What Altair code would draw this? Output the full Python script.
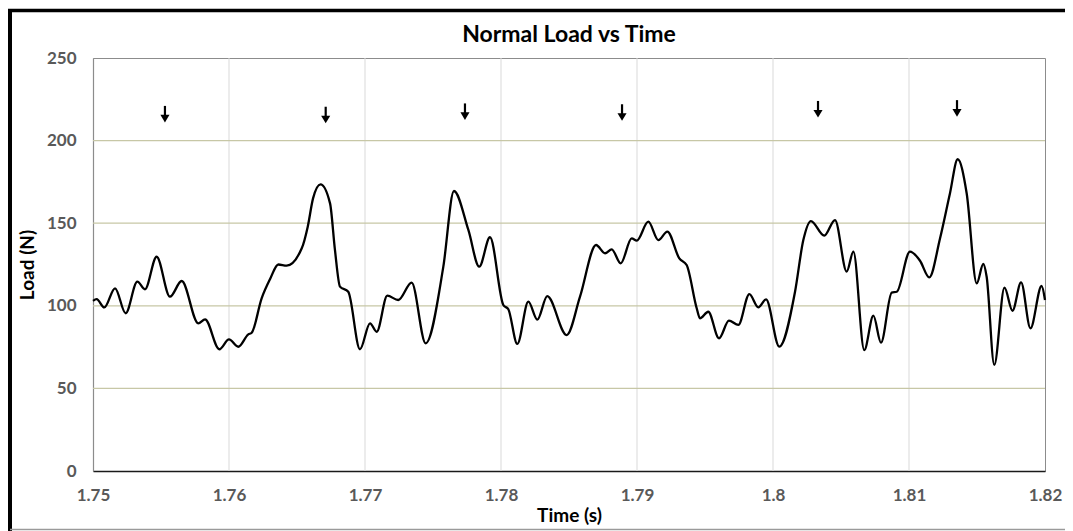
import altair as alt
import pandas as pd

# ---- data ----
time_s = [1.75000, 1.75027, 1.75083, 1.75162, 1.75240, 1.75326, 1.75382, 1.75468,
          1.75566, 1.75652, 1.75774, 1.75824, 1.75929, 1.76000, 1.76068, 1.76142,
          1.76167, 1.76240, 1.76301, 1.76363, 1.76424, 1.76535, 1.76579, 1.76618,
          1.76673, 1.76743, 1.76779, 1.76816, 1.76877, 1.76963, 1.77037, 1.77086,
          1.77164, 1.77245, 1.77343, 1.77446, 1.77576, 1.77654, 1.77760, 1.77840,
          1.77919, 1.78017, 1.78054, 1.78120, 1.78201, 1.78267, 1.78340, 1.78483,
          1.78581, 1.78699, 1.78765, 1.78814, 1.78880, 1.78961, 1.78998, 1.79083,
          1.79157, 1.79223, 1.79311, 1.79365, 1.79439, 1.79463, 1.79524, 1.79603,
          1.79676, 1.79745, 1.79826, 1.79892, 1.79949, 1.80046, 1.80162, 1.80223,
          1.80279, 1.80377, 1.80456, 1.80542, 1.80591, 1.80671, 1.80738, 1.80794,
          1.80873, 1.80910, 1.81007, 1.81081, 1.81149, 1.81228, 1.81301, 1.81358,
          1.81424, 1.81498, 1.81546, 1.81571, 1.81627, 1.81702, 1.81761, 1.81824,
          1.81893, 1.81975, 1.82000]
load_n = [103.0, 104.0, 99.0, 110.6, 95.5, 114.6, 110.0, 129.7,
          105.5, 115.0, 89.4, 91.8, 73.7, 79.7, 75.2, 82.7,
          83.7, 104.5, 116.0, 125.0, 124.3, 134.8, 147.9, 165.0,
          173.5, 162.0, 133.8, 111.6, 108.5, 73.7, 89.4, 84.3,
          106.1, 103.5, 114.0, 77.3, 123.7, 169.5, 145.9, 123.7,
          141.5, 100.5, 97.9, 76.9, 102.5, 91.6, 105.9, 82.3,
          105.5, 136.8, 131.8, 134.2, 125.7, 140.8, 139.4, 150.9,
          139.8, 144.9, 128.7, 124.7, 98.5, 92.4, 96.4, 80.3,
          91.0, 88.4, 107.1, 99.1, 103.9, 75.3, 108.5, 139.8,
          151.3, 142.5, 151.9, 120.7, 132.8, 73.2, 94.0, 77.7,
          108.0, 108.5, 132.8, 127.3, 117.2, 140.8, 168.0, 188.7,
          168.1, 113.6, 125.3, 117.6, 64.2, 111.0, 97.0, 114.2,
          86.4, 112.0, 103.5]

arrow_time = [1.75529, 1.76711, 1.77735, 1.78890, 1.80331, 1.81353]
arrow_tip = [211.0, 210.5, 212.5, 212.0, 214.0, 214.5]
arrow_top = [221.0, 220.5, 222.5, 222.0, 224.0, 224.5]

x_ticks = [1.75, 1.76, 1.77, 1.78, 1.79, 1.80, 1.81, 1.82]
y_ticks = [0, 50, 100, 150, 200, 250]
x_grid = [1.76, 1.77, 1.78, 1.79, 1.80, 1.81]
y_grid = [50, 100, 150, 200]

chart_title = "Normal Load vs Time"

FONT = "Lato"
W, H = 952, 413

df = pd.DataFrame({"time": time_s, "load": load_n})
arrows = pd.DataFrame({"time": arrow_time, "tip": arrow_tip, "top": arrow_top})
arrows["shaft_end"] = arrows["tip"] + 3

xscale = alt.Scale(domain=[1.75, 1.82], nice=False, zero=False)
yscale = alt.Scale(domain=[0, 250], nice=False)

xaxis = alt.Axis(values=x_ticks, format="~g", title="Time (s)", grid=False,
                 ticks=False, tickSize=0, labelPadding=16, labelFlush=False,
                 domainColor="#1a1a1a", domainWidth=1.5,
                 titleX=W / 2, titleY=50, titleBaseline="alphabetic", titleAlign="center")
yaxis = alt.Axis(values=y_ticks, title="Load (N)", grid=False,
                 ticks=False, tickSize=0, labelPadding=17, labelFlush=False,
                 domainColor="#8c8c8c", domainWidth=1.2,
                 titleX=-56, titleY=H / 2, titleAngle=-90, titleBaseline="bottom",
                 titleAlign="center")

vgrid = alt.Chart(pd.DataFrame({"time": x_grid})).mark_rule(
    color="#d9d9d9", strokeWidth=1).encode(x=alt.X("time:Q", scale=xscale, axis=xaxis))
hgrid = alt.Chart(pd.DataFrame({"load": y_grid})).mark_rule(
    color="#c7c7a6", strokeWidth=1.2).encode(y=alt.Y("load:Q", scale=yscale, axis=yaxis))

line = alt.Chart(df).mark_line(color="black", strokeWidth=2.3, interpolate="monotone").encode(
    x=alt.X("time:Q", scale=xscale, axis=xaxis),
    y=alt.Y("load:Q", scale=yscale, axis=yaxis),
)

shafts = alt.Chart(arrows).mark_rule(color="black", strokeWidth=2.2).encode(
    x="time:Q", y="top:Q", y2="shaft_end:Q")
heads = alt.Chart(arrows).mark_point(
    shape="M-0.6,-1L0.6,-1L0,0Z", filled=True, color="black", opacity=1, size=230
).encode(x="time:Q", y="tip:Q")

one = pd.DataFrame({"a": [0]})
title_mark = alt.Chart(pd.DataFrame({"t": [chart_title]})).mark_text(
    font=FONT, fontSize=23, fontWeight="bold", color="black",
    align="center", baseline="alphabetic"
).encode(text="t:N", x=alt.value(W / 2), y=alt.value(-16))

frame_left = alt.Chart(one).mark_rule(color="black", strokeWidth=4).encode(
    x=alt.value(-83), y=alt.value(-49), y2=alt.value(475))
frame_top = alt.Chart(one).mark_rule(color="black", strokeWidth=3.5).encode(
    x=alt.value(-85), x2=alt.value(985), y=alt.value(-47.5))
frame_bottom = alt.Chart(one).mark_rule(color="#9a9a9a", strokeWidth=1.5).encode(
    x=alt.value(-83), x2=alt.value(985), y=alt.value(471.5))

chart = alt.layer(vgrid, hgrid, line, shafts, heads, title_mark,
                  frame_left, frame_top, frame_bottom).properties(
    width=W, height=H,
    autosize=alt.AutoSizeParams(type="none"),
    padding={"left": 85, "top": 50, "right": 20, "bottom": 70},
    background="white",
).configure_view(
    stroke="#8c8c8c", strokeWidth=1
).configure_axis(
    labelFont=FONT, labelFontSize=17, labelFontWeight="bold", labelColor="#595959",
    titleFont=FONT, titleFontSize=19, titleFontWeight="bold", titleColor="black",
)

chart.save("out.html", embed_options={"renderer": "svg", "actions": False})
